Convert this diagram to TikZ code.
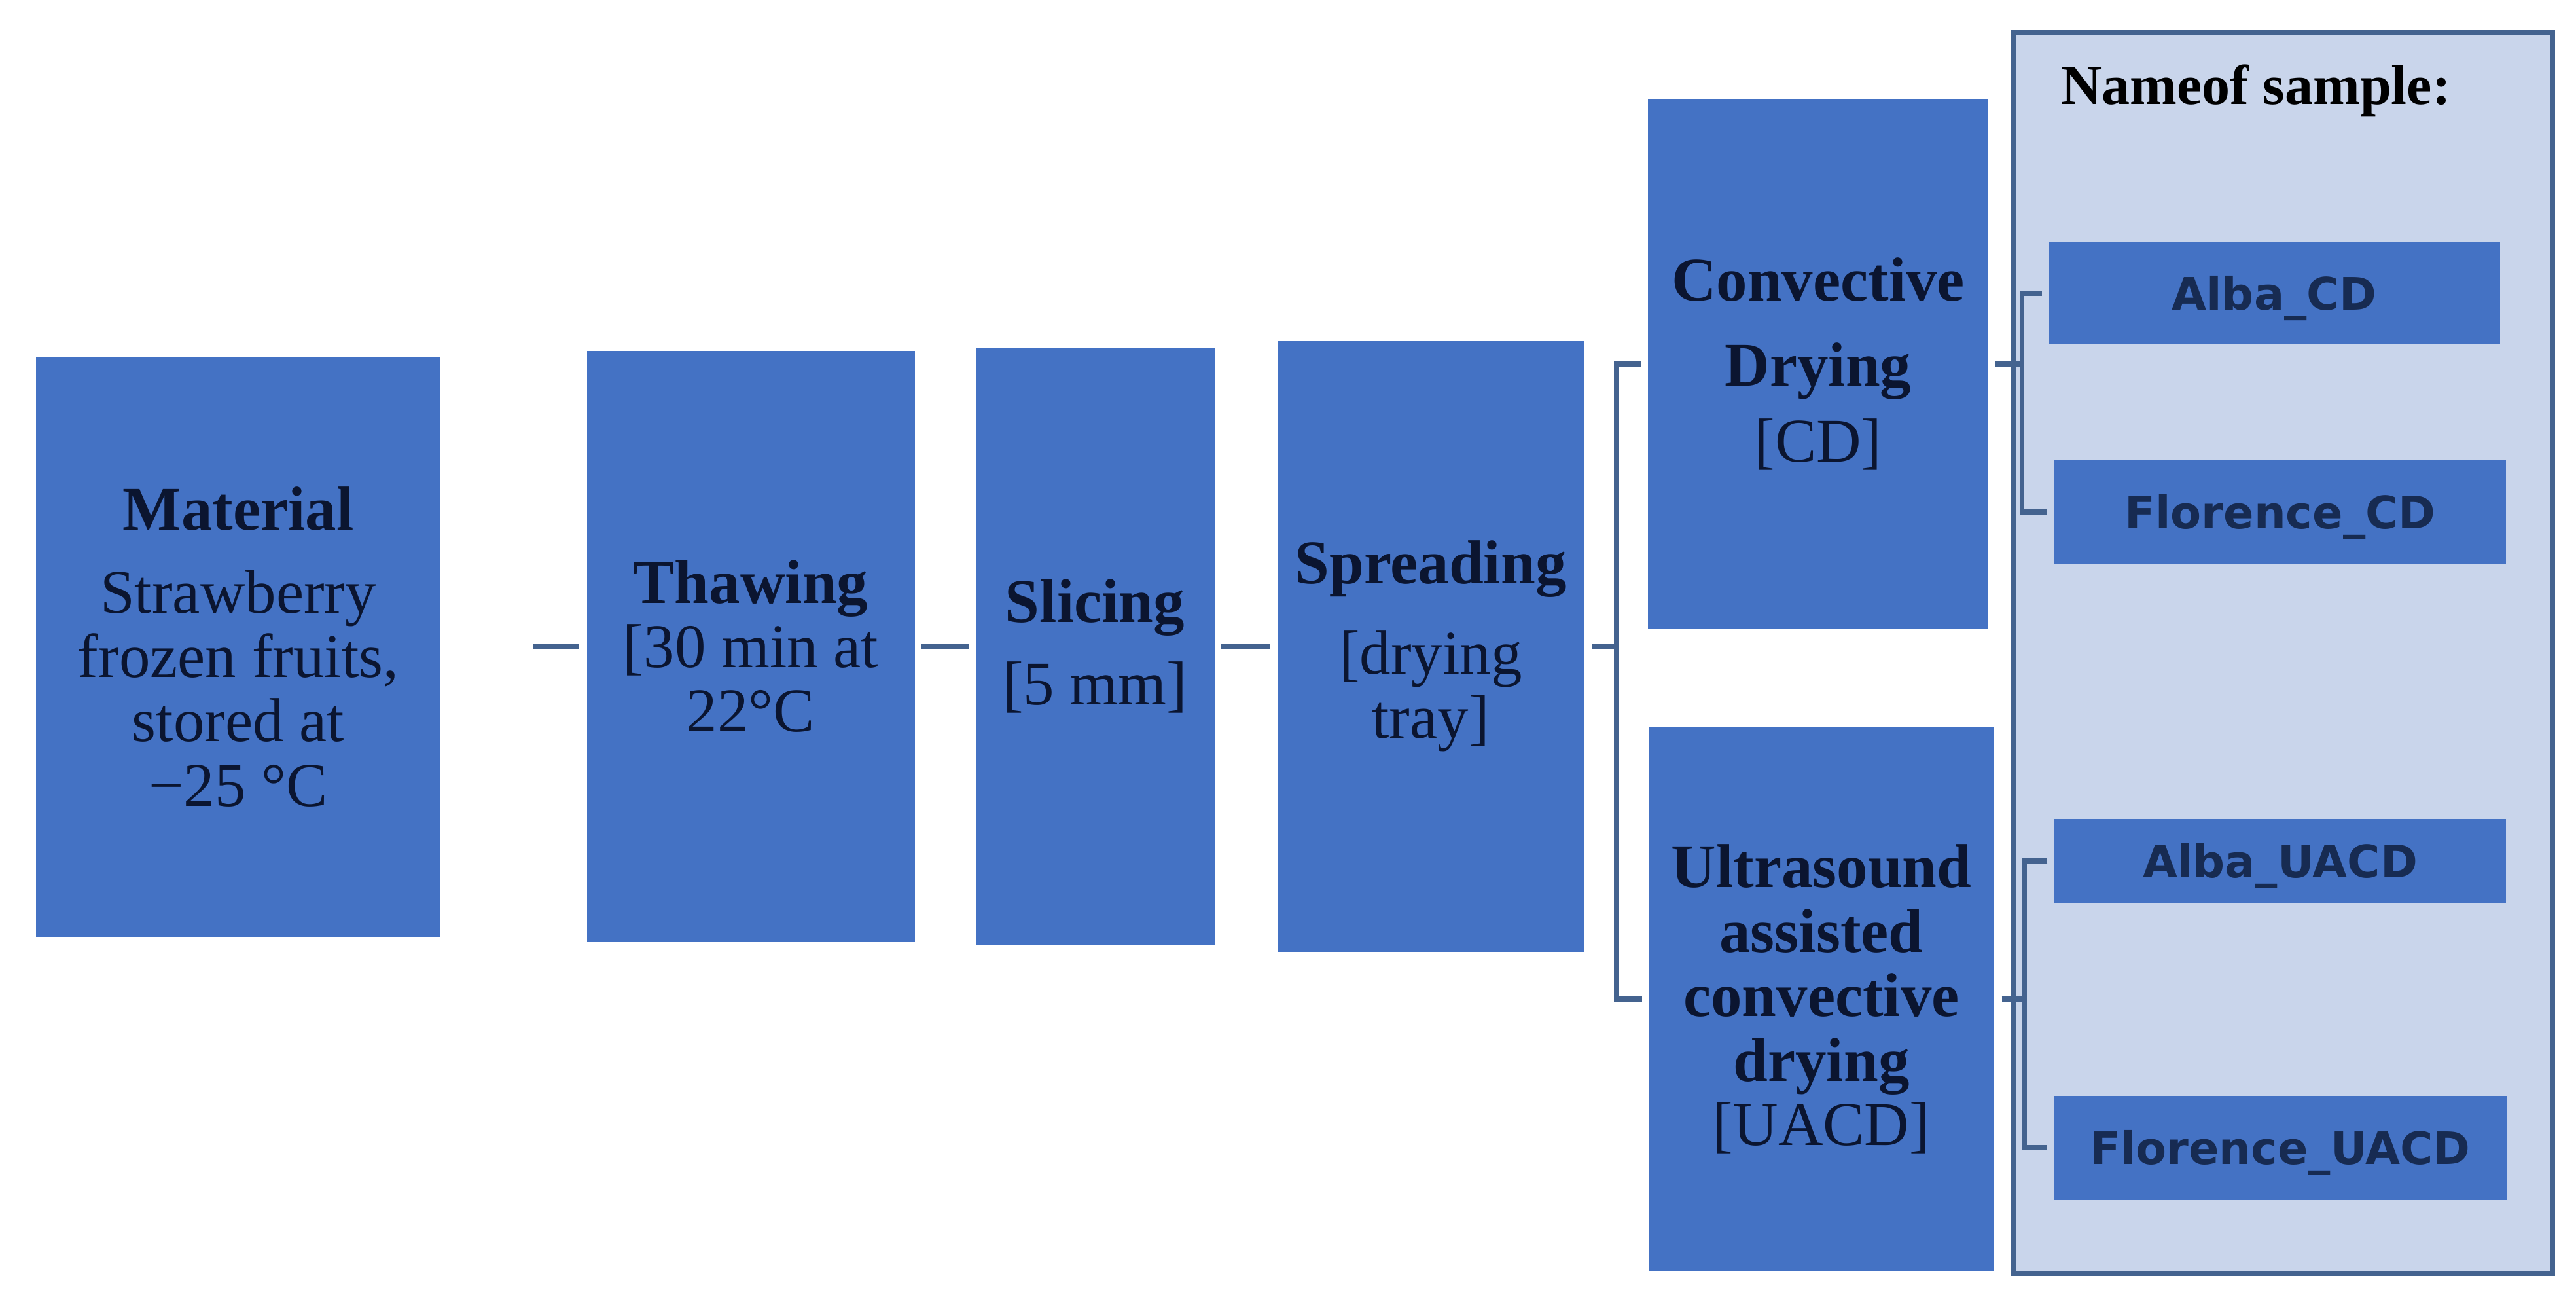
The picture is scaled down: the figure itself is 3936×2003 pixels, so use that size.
\documentclass[tikz,border=0pt]{standalone}
\usepackage{fontspec}
\setmainfont{Liberation Serif}
\newfontfamily\samplefont{DejaVu Sans}
\usepackage{tikz}

\definecolor{boxblue}{HTML}{4472C4}
\definecolor{linkblue}{HTML}{44638F}
\definecolor{panelblue}{HTML}{C9D5EB}
\definecolor{inknavy}{HTML}{0B1530}
\definecolor{labelnavy}{HTML}{172B52}

\begin{document}
\begin{tikzpicture}[x = 0.1mm, y = -0.1mm,
    stage/.style = {fill = boxblue, text = inknavy, align = center, inner sep = 0pt, font = \fontsize{27}{28}\selectfont},
    sample/.style = {fill = boxblue, text = labelnavy, inner sep = 0pt, text height = 5mm, text depth = 0mm, font = \samplefont\bfseries\fontsize{19.5}{22}\selectfont},
    link/.style = {draw = linkblue, line width = 0.75mm}]
    \useasboundingbox (0,0) rectangle (3936,2003);
    % process steps
    \node at (364,988) [stage, minimum width = 61.8mm, minimum height = 88.6mm] (mat) {\textbf{Material}\\[8pt] Strawberry\\ frozen fruits,\\ stored at\\ −25 °C};
    \node at (1147,987) [stage, minimum width = 50.1mm, minimum height = 90.3mm] (thaw) {\textbf{Thawing}\\ {[}30 min at\\ 22°C};
    \node at (1673,987) [stage, minimum width = 36.5mm, minimum height = 91.2mm] (slic) {\textbf{Slicing}\\[8pt] {[}5 mm]};
    \node at (2186,987) [stage, minimum width = 46.9mm, minimum height = 93.3mm] (spr) {\textbf{Spreading}\\[11pt] {[}drying\\ tray]};
    \node at (2778,556) [stage, minimum width = 52mm, minimum height = 81mm] (cd) {\textbf{Convective}\\[9pt] \textbf{Drying}\\[5pt] {[}CD]};
    \node at (2783,1526) [stage, minimum width = 52.6mm, minimum height = 83mm] (uacd) {\textbf{Ultrasound}\\ \textbf{assisted}\\ \textbf{convective}\\ \textbf{drying}\\ {[}UACD]};
    % sample names
    \node at (3488,997) [draw = linkblue, fill = panelblue, line width = 0.8mm, minimum width = 82.3mm, minimum height = 189.5mm] (panel) {};
    \node at (3447,159) [anchor = base, font = \bfseries\fontsize{24.5}{26}\selectfont] (ttl) {Nameof sample:};
    \node at (3475,448) [sample, minimum width = 68.9mm, minimum height = 15.6mm] (albacd) {Alba\_CD};
    \node at (3484,782) [sample, minimum width = 69mm, minimum height = 16mm] (florcd) {Florence\_CD};
    \node at (3484,1315) [sample, minimum width = 69mm, minimum height = 12.8mm] (albaua) {Alba\_UACD};
    \node at (3484,1753) [sample, minimum width = 69.1mm, minimum height = 15.9mm] (florua) {Florence\_UACD};
    % connectors
    \draw[link, shorten <= 14.1mm, shorten >= 1.1mm] (mat.east) -- (mat.east -| thaw.west);
    \draw[link, shorten <= 1mm, shorten >= 0.9mm] (thaw.east) -- (thaw.east -| slic.west);
    \draw[link, shorten <= 1mm, shorten >= 1mm] (slic.east) -- (slic.east -| spr.west);
    \coordinate (sprfork) at ([xshift = 4.9mm]spr.east);
    \draw[link, shorten <= 1.1mm] (spr.east) -- (sprfork);
    \draw[link] ([xshift = -1mm]cd.west) -| (sprfork) |- ([xshift = -1mm]uacd.west);
    \coordinate (cdfork) at ([xshift = 5.1mm]cd.east);
    \draw[link, shorten <= 1mm] (cd.east) -- (cdfork);
    \draw[link] ([xshift = -1mm]albacd.west) -| (cdfork) |- ([xshift = -1mm]florcd.west);
    \coordinate (uafork) at ([xshift = 4.7mm]uacd.east);
    \draw[link, shorten <= 1.2mm] (uacd.east) -- (uafork);
    \draw[link] ([xshift = -1mm]albaua.west) -| (uafork) |- ([xshift = -1mm]florua.west);
\end{tikzpicture}
\end{document}
